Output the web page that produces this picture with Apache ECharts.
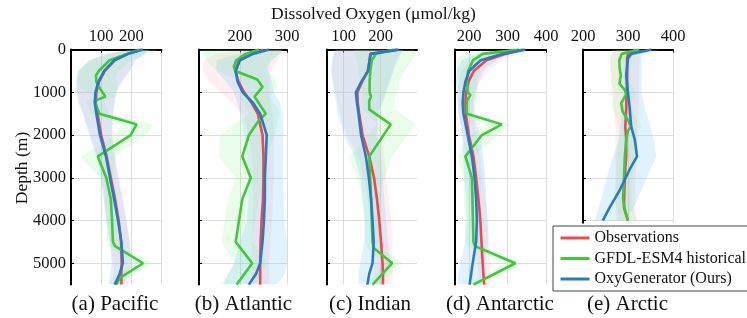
<!DOCTYPE html>
<html>
<head>
<meta charset="utf-8">
<script src="https://cdn.jsdelivr.net/npm/echarts@6/dist/echarts.min.js"></script>
<style>html,body{margin:0;padding:0;background:#fff;}#c{width:747px;height:318px;}</style>
</head>
<body>
<div id="c"></div>
<script>
// ---------- shared depth grid for Observations / OxyGenerator (m) ----------
const SD = [0, 100, 250, 500, 750, 1000, 1250, 1500, 2000, 2500, 3000, 3500, 4000, 4500, 5000, 5250, 5500];

// ---------- (a) Pacific ----------
const pacObs   = [235, 188, 145, 112, 93, 84, 82, 88, 100, 118, 132, 146, 158, 166, 168, 167, 167];
const pacOxy   = [239, 190, 143, 110, 91, 81, 79, 84, 96, 116, 129, 143, 156, 167, 172, 161, 145];
const pacObsLo = [212, 120, 65, 28, 20, 20, 27, 42, 63, 88, 103, 112, 120, 130, 138, 140, 140];
const pacObsHi = [258, 240, 210, 192, 165, 148, 143, 138, 137, 147, 160, 172, 185, 195, 198, 195, 190];
const pacOxyLo = [215, 115, 60, 25, 18, 18, 25, 39, 60, 85, 100, 108, 117, 128, 135, 130, 125];
const pacOxyHi = [262, 245, 215, 195, 170, 150, 145, 140, 135, 145, 156, 170, 183, 195, 200, 190, 175];
const pacGfdlD  = [0, 100, 250, 500, 600, 750, 900, 1100, 1200, 1500, 1750, 2000, 2500, 3000, 3500, 4000, 4500, 4600, 5000, 5350, 5500];
const pacGfdl   = [228, 185, 128, 92, 83, 84, 95, 114, 78, 94, 217, 198, 89, 117, 132, 136, 139, 146, 239, 161, 150];
const pacGfdlLo = [195, 130, 60, 20, 18, 20, 30, 80, 50, 65, 165, 150, 30, 95, 110, 115, 118, 125, 205, 135, 125];
const pacGfdlHi = [285, 270, 200, 160, 150, 150, 155, 150, 110, 125, 272, 250, 145, 140, 155, 160, 160, 165, 272, 185, 175];

// ---------- (b) Atlantic ----------
const atlObs   = [250, 225, 198, 190, 197, 209, 225, 238, 248, 250, 250, 249, 246, 244, 243, 243, 243];
const atlOxy   = [262, 228, 200, 191, 195, 206, 228, 243, 257, 255, 253, 253, 251, 248, 243, 234, 219];
const atlObsLo = [220, 150, 125, 120, 135, 160, 185, 205, 220, 225, 228, 228, 227, 225, 225, 225, 225];
const atlObsHi = [290, 290, 280, 265, 262, 262, 265, 270, 272, 273, 272, 270, 268, 265, 262, 262, 262];
const atlOxyLo = [235, 200, 150, 150, 170, 187, 195, 200, 210, 215, 218, 218, 215, 200, 187, 175, 165];
const atlOxyHi = [290, 285, 265, 260, 268, 272, 285, 290, 292, 292, 292, 293, 295, 300, 300, 295, 280];
const atlGfdlD  = [0, 100, 250, 400, 500, 700, 875, 1100, 1500, 1650, 2000, 2500, 3000, 3500, 4500, 5000, 5500];
const atlGfdl   = [241, 212, 192, 187, 190, 237, 248, 231, 255, 241, 219, 205, 223, 205, 191, 226, 193];
const atlGfdlLo = [115, 120, 130, 140, 150, 195, 215, 200, 220, 200, 158, 155, 190, 175, 160, 190, 160];
const atlGfdlHi = [290, 285, 270, 255, 260, 275, 280, 265, 285, 280, 275, 255, 255, 240, 225, 260, 230];

// ---------- (c) Indian ----------
const indObs   = [245, 172, 170, 165, 150, 137, 138, 142, 151, 169, 182, 190, 196, 201, 205, 206, 206];
const indOxy   = [249, 173, 170, 166, 148, 133, 136, 140, 147, 160, 168, 174, 178, 181, 178, 169, 164];
const indObsLo = [75, 72, 70, 68, 72, 78, 84, 90, 108, 140, 155, 165, 172, 178, 182, 183, 183];
const indObsHi = [255, 250, 240, 232, 222, 212, 202, 195, 200, 210, 215, 222, 228, 232, 232, 232, 230];
const indOxyLo = [80, 75, 68, 66, 70, 75, 80, 84, 100, 130, 145, 152, 158, 155, 145, 140, 140];
const indOxyHi = [262, 255, 245, 235, 225, 215, 205, 192, 190, 200, 205, 210, 215, 220, 225, 215, 200];
const indGfdlD  = [0, 100, 250, 500, 750, 1000, 1100, 1200, 1400, 1750, 2500, 3250, 4500, 4650, 5000, 5500];
const indGfdl   = [235, 187, 176, 172, 170, 170, 174, 169, 169, 227, 169, 173, 178, 182, 231, 178];
const indGfdlLo = [130, 130, 135, 140, 145, 150, 150, 150, 150, 190, 115, 145, 160, 165, 210, 160];
const indGfdlHi = [290, 292, 285, 265, 250, 245, 240, 238, 240, 295, 230, 200, 200, 200, 260, 200];

// ---------- (d) Antarctic ----------
const antObs   = [340, 295, 245, 212, 198, 192, 190, 191, 199, 211, 218, 224, 229, 232, 235, 237, 239];
const antOxy   = [346, 288, 230, 200, 190, 185, 183, 185, 196, 207, 214, 218, 220, 218, 209, 205, 201];
const antObsLo = [300, 240, 200, 180, 172, 170, 170, 173, 183, 193, 200, 205, 210, 215, 222, 224, 225];
const antObsHi = [350, 330, 285, 250, 228, 218, 213, 213, 218, 230, 237, 243, 248, 252, 255, 255, 255];
const antOxyLo = [300, 220, 180, 168, 166, 168, 170, 172, 181, 185, 187, 192, 194, 190, 177, 172, 170];
const antOxyHi = [350, 310, 270, 237, 225, 216, 210, 212, 229, 237, 242, 245, 248, 250, 240, 232, 229];
const antGfdlD  = [0, 100, 250, 500, 750, 1000, 1060, 1200, 1500, 1750, 2000, 2500, 3000, 4500, 4600, 5000, 5500];
const antGfdl   = [330, 235, 210, 197, 194, 196, 203, 194, 194, 285, 233, 190, 207, 211, 215, 320, 211];
const antGfdlLo = [290, 180, 168, 168, 170, 172, 180, 172, 172, 250, 200, 170, 185, 190, 195, 295, 195];
const antGfdlHi = [355, 275, 245, 225, 220, 220, 225, 215, 215, 307, 275, 212, 230, 232, 238, 335, 230];

// ---------- (e) Arctic ----------
const arcD     = [0, 100, 200, 600, 1000, 1400, 1800, 2100, 2500, 2800, 3300, 3700, 4000];
const arcObs   = [318, 300, 298, 298, 297, 296, 294, 296, 296, 294, 292, 291, 300];
const arcOxy   = [352, 307, 300, 296, 300, 304, 307, 315, 320, 304, 281, 259, 244];
const arcObsLo = [275, 265, 262, 262, 265, 268, 272, 272, 272, 272, 272, 272, 275];
const arcObsHi = [340, 330, 325, 325, 325, 323, 320, 320, 320, 318, 316, 316, 320];
const arcOxyLo = [305, 290, 288, 290, 290, 288, 284, 280, 267, 258, 245, 235, 226];
const arcOxyHi = [375, 335, 330, 330, 330, 338, 350, 357, 363, 350, 330, 312, 296];
const arcGfdlD  = [0, 100, 250, 400, 600, 800, 950, 1050, 1250, 1450, 1650, 1800, 1900, 2100, 2500, 3000, 3500, 3750, 4000];
const arcGfdl   = [325, 286, 281, 281, 284, 281, 293, 296, 285, 288, 300, 307, 300, 296, 293, 291, 289, 293, 300];
const arcGfdlLo = [265, 262, 260, 260, 262, 262, 268, 270, 265, 268, 275, 280, 280, 278, 275, 273, 271, 275, 280];
const arcGfdlHi = [335, 312, 305, 305, 305, 305, 315, 318, 308, 310, 322, 330, 322, 318, 312, 310, 308, 312, 320];

// ---------- axes / labels ----------
const captions  = ['(a) Pacific', '(b) Atlantic', '(c) Indian', '(d) Antarctic', '(e) Arctic'];
const xMins     = [0, 113, 55, 163, 200];
const xMaxs     = [300, 300, 298, 400, 400];
const xTicks    = [[100, 200, 300], [200, 300], [100, 200], [200, 300, 400], [200, 300, 400]];
const xLabels   = [[100, 200], [200, 300], [100, 200], [200, 300, 400], [200, 300, 400]];
const yMaxs     = [5500, 5500, 5500, 5500, 4050];
const yTicks    = [0, 1000, 2000, 3000, 4000, 5000];
const seriesNames = ['Observations', 'GFDL-ESM4 historical', 'OxyGenerator (Ours)'];

const panels = [
  {d: SD, obs: pacObs, oxy: pacOxy, obsLo: pacObsLo, obsHi: pacObsHi, oxyLo: pacOxyLo, oxyHi: pacOxyHi, gd: pacGfdlD, g: pacGfdl, gLo: pacGfdlLo, gHi: pacGfdlHi},
  {d: SD, obs: atlObs, oxy: atlOxy, obsLo: atlObsLo, obsHi: atlObsHi, oxyLo: atlOxyLo, oxyHi: atlOxyHi, gd: atlGfdlD, g: atlGfdl, gLo: atlGfdlLo, gHi: atlGfdlHi},
  {d: SD, obs: indObs, oxy: indOxy, obsLo: indObsLo, obsHi: indObsHi, oxyLo: indOxyLo, oxyHi: indOxyHi, gd: indGfdlD, g: indGfdl, gLo: indGfdlLo, gHi: indGfdlHi},
  {d: SD, obs: antObs, oxy: antOxy, obsLo: antObsLo, obsHi: antObsHi, oxyLo: antOxyLo, oxyHi: antOxyHi, gd: antGfdlD, g: antGfdl, gLo: antGfdlLo, gHi: antGfdlHi},
  {d: arcD, obs: arcObs, oxy: arcOxy, obsLo: arcObsLo, obsHi: arcObsHi, oxyLo: arcOxyLo, oxyHi: arcOxyHi, gd: arcGfdlD, g: arcGfdl, gLo: arcGfdlLo, gHi: arcGfdlHi}
];

const FONT = 'Liberation Serif';
const RED = '#EF4650', GREEN = '#3EC83A', BLUE = '#2A7AC2';
const PINK_BAND = 'rgba(255,160,175,0.17)', GREEN_BAND = 'rgba(150,240,150,0.2)', BLUE_BAND = 'rgba(135,205,238,0.26)';

const gridLefts = [71, 199, 327, 455, 583];
const gridWidths = [90.5, 88, 90, 91, 90];
const pxPerM = 235 / 5500;

const grids = [], xAxes = [], yAxes = [], series = [];

function band(i, depths, lo, hi, color, name) {
  return {
    type: 'custom', name: name, xAxisIndex: i, yAxisIndex: i, silent: true, clip: true, z: 1,
    data: [[lo[0], depths[0]]],
    renderItem: function (params, api) {
      const pts = [];
      for (let k = 0; k < depths.length; k++) pts.push(api.coord([lo[k], depths[k]]));
      for (let k = depths.length - 1; k >= 0; k--) pts.push(api.coord([hi[k], depths[k]]));
      return { type: 'polygon', shape: { points: pts }, style: { fill: color, stroke: null } };
    }
  };
}
function pairs(vals, depths) { return vals.map((v, k) => [v, depths[k]]); }
function line(i, name, vals, depths, color, z) {
  return {
    type: 'line', name: name, xAxisIndex: i, yAxisIndex: i, data: pairs(vals, depths),
    showSymbol: false, symbol: 'none', clip: true, z: z, silent: true,
    lineStyle: { color: color, width: 2.6 }, itemStyle: { color: color }
  };
}

panels.forEach((p, i) => {
  grids.push({ left: gridLefts[i], top: 49.6, width: gridWidths[i], height: yMaxs[i] * pxPerM, containLabel: false });
  xAxes.push({
    type: 'value', gridIndex: i, position: 'top', min: xMins[i], max: xMaxs[i],
    axisLine: { show: true, onZero: false, lineStyle: { color: '#000', width: 2 } },
    axisTick: { show: true, inside: true, length: 3, customValues: xTicks[i], lineStyle: { color: '#000', width: 1 } },
    axisLabel: { show: true, customValues: xLabels[i], margin: 4, fontFamily: FONT, fontSize: 16.5, color: '#111', formatter: v => String(v) },
    splitLine: { show: true, lineStyle: { color: '#dddddd', width: 1 } }
  });
  yAxes.push({
    type: 'value', gridIndex: i, inverse: true, min: 0, max: yMaxs[i],
    axisLine: { show: true, onZero: false, lineStyle: { color: '#000', width: 2 } },
    axisTick: { show: true, inside: true, length: 3, customValues: yTicks.filter(t => t < yMaxs[i]), lineStyle: { color: '#000', width: 1 } },
    axisLabel: { show: i === 0, customValues: yTicks, margin: 5, fontFamily: FONT, fontSize: 16.5, color: '#111', formatter: v => String(v) },
    splitLine: { show: true, lineStyle: { color: '#dddddd', width: 1 } }
  });
  series.push(band(i, p.d, p.obsLo, p.obsHi, PINK_BAND, 'obsBand' + i));
  series.push(band(i, p.gd, p.gLo, p.gHi, GREEN_BAND, 'gfdlBand' + i));
  series.push(band(i, p.d, p.oxyLo, p.oxyHi, BLUE_BAND, 'oxyBand' + i));
  series.push(line(i, seriesNames[0], p.obs, p.d, RED, 3));
  series.push(line(i, seriesNames[1], p.g, p.gd, GREEN, 4));
  series.push(line(i, seriesNames[2], p.oxy, p.d, BLUE, 5));
});

const captionCenters = [115, 243.5, 370, 500, 627.5];
const graphics = [
  { type: 'text', left: 'center', top: 5, style: { text: 'Dissolved Oxygen (μmol/kg)', fontFamily: FONT, fontSize: 17.5, fill: '#111' } },
  { type: 'text', x: 22, y: 168, rotation: Math.PI / 2, style: { text: 'Depth (m)', fontFamily: FONT, fontSize: 17.5, fill: '#111', align: 'center', verticalAlign: 'middle' } }
];
captions.forEach((c, i) => graphics.push({
  type: 'text', x: captionCenters[i], y: 304,
  style: { text: c, fontFamily: FONT, fontSize: 21, fill: '#111', align: 'center', verticalAlign: 'middle' }
}));

const chart = echarts.init(document.getElementById('c'), null, { renderer: 'canvas' });
chart.setOption({
  animation: false,
  backgroundColor: '#fff',
  grid: grids, xAxis: xAxes, yAxis: yAxes, series: series,
  legend: {
    data: seriesNames, orient: 'vertical', left: 553, top: 226, z: 20,
    icon: 'rect', itemWidth: 29, itemHeight: 3, itemGap: 4.5,
    backgroundColor: '#fff', borderColor: '#444', borderWidth: 1, borderRadius: 0,
    padding: [4, 6, 4, 7.5],
    textStyle: { fontFamily: FONT, fontSize: 16, color: '#111' },
    selectedMode: false
  },
  graphic: graphics
});
</script>
</body>
</html>
